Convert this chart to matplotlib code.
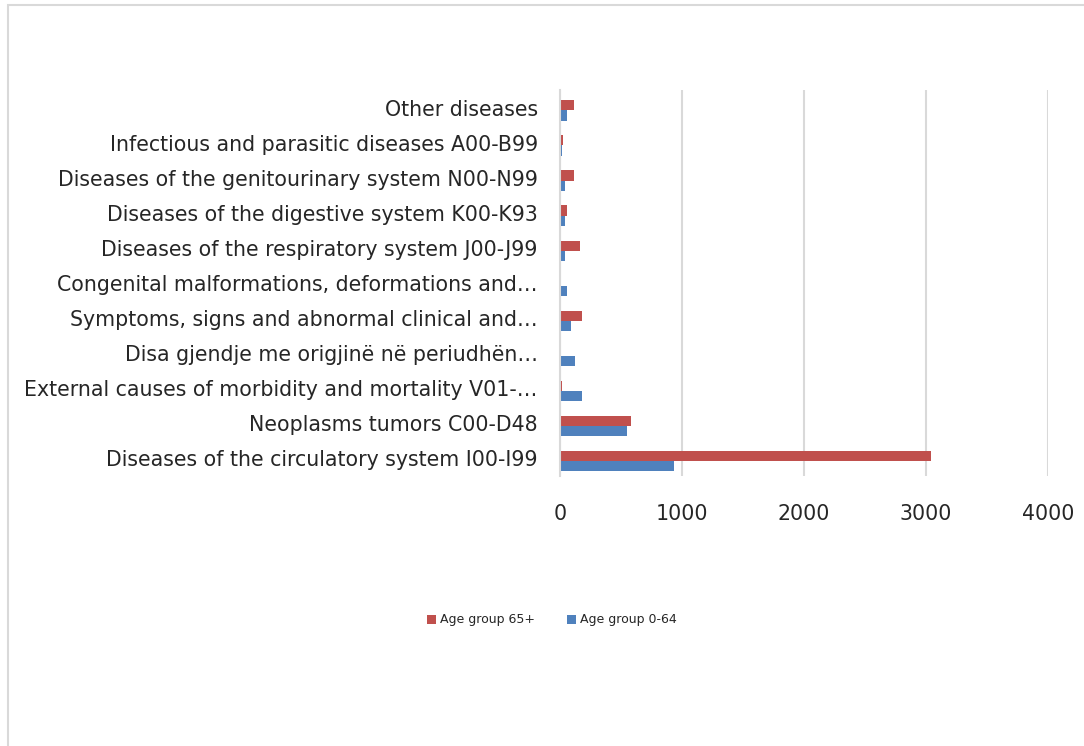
import matplotlib.pyplot as plt
from matplotlib.patches import Rectangle
import numpy as np

categories = [
    "Diseases of the circulatory system I00-I99",
    "Neoplasms tumors C00-D48",
    "External causes of morbidity and mortality V01-\u2026",
    "Disa gjendje me origjin\u00eb n\u00eb periudh\u00ebn\u2026",
    "Symptoms, signs and abnormal clinical and\u2026",
    "Congenital malformations, deformations and\u2026",
    "Diseases of the respiratory system J00-J99",
    "Diseases of the digestive system K00-K93",
    "Diseases of the genitourinary system N00-N99",
    "Infectious and parasitic diseases A00-B99",
    "Other diseases",
]
age_65_plus = [3040, 580, 20, 0, 180, 0, 165, 57, 112, 25, 112]
age_0_64 = [935, 548, 180, 125, 90, 58, 40, 40, 40, 20, 60]

red = "#C0504D"
blue = "#4F81BD"
text_col = "#262626"

fig = plt.figure(figsize=(10.84, 7.46), dpi=100)
# thin grey chart-area border
fig.add_artist(Rectangle((8 / 1084, -0.01), 1.0, 1 - 5 / 746 + 0.01, transform=fig.transFigure,
                         fill=False, edgecolor="#D9D9D9", linewidth=1.5))
ax = fig.add_axes([560 / 1084, 1 - 476 / 746, (1048 - 560) / 1084, (476 - 90) / 746])

y = np.arange(len(categories))
h = 0.29
ax.barh(y + h / 2 - 0.08, age_65_plus, height=h, color=red, label="Age group 65+")
ax.barh(y - h / 2 - 0.08, age_0_64, height=h, color=blue, label="Age group 0-64")

ax.set_xlim(0, 4000)
ax.set_ylim(-0.5, len(categories) - 0.5)
ax.set_xticks([0, 1000, 2000, 3000, 4000])
ax.set_yticks(y)
ax.set_yticklabels(categories)
ax.tick_params(axis="y", length=0, pad=16, labelsize=14.8, labelcolor=text_col)
ax.tick_params(axis="x", length=0, pad=20, labelsize=14.8, labelcolor=text_col)
ax.grid(axis="x", color="#D9D9D9", linewidth=1.5)
ax.set_axisbelow(True)
for s in ["top", "right", "bottom"]:
    ax.spines[s].set_visible(False)
ax.spines["left"].set_color("#D9D9D9")
ax.spines["left"].set_linewidth(1.5)

fig.legend(loc="center", bbox_to_anchor=(552 / 1084, 1 - 620 / 746), ncol=2,
           frameon=False, fontsize=9, handlelength=0.7, handleheight=0.7,
           columnspacing=2.5, handletextpad=0.4, labelcolor=text_col)

fig.savefig("out.png", dpi=100)
